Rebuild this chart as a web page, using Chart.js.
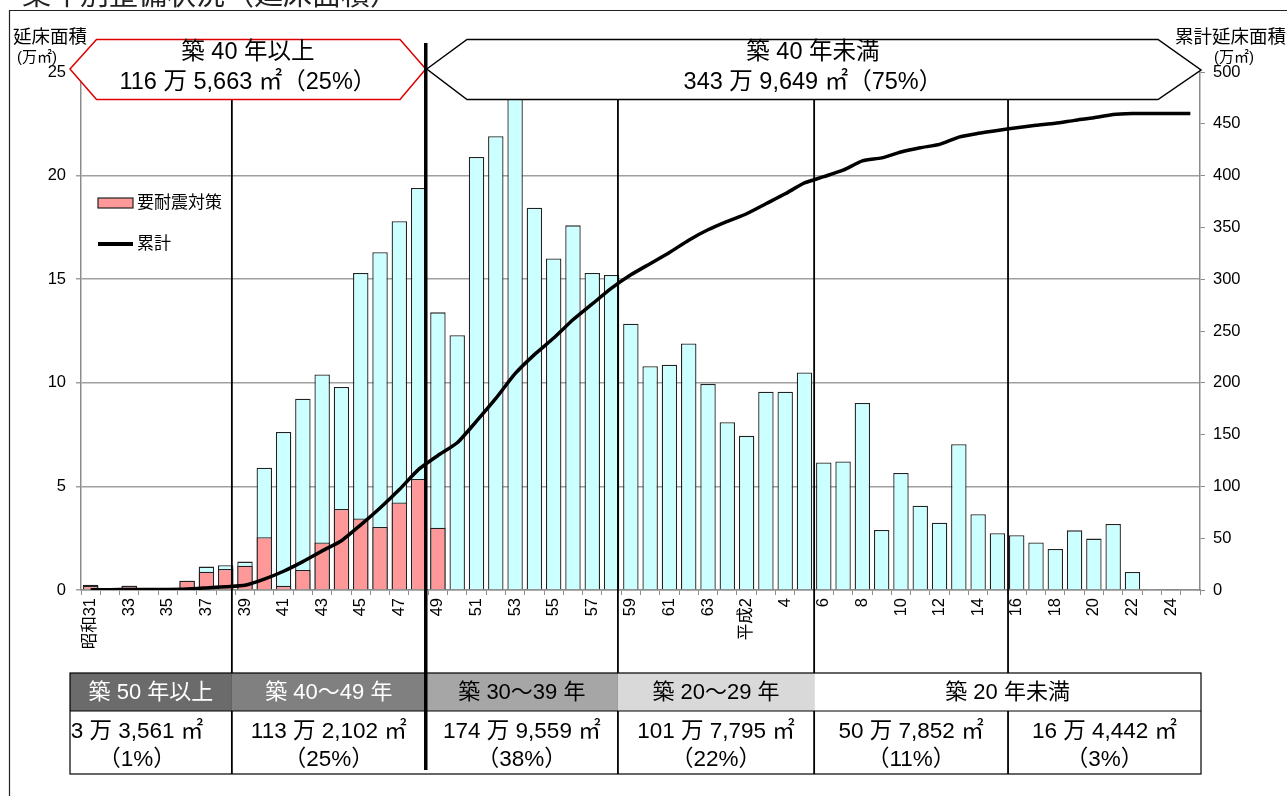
<!DOCTYPE html>
<html lang="ja">
<head>
<meta charset="utf-8">
<title>築年別整備状況（延床面積）</title>
<script src="https://cdn.jsdelivr.net/npm/chart.js@4.4.1/dist/chart.umd.min.js"></script>
<style>
  html, body { margin: 0; padding: 0; background: #fff; }
  #wrap { width: 1287px; height: 796px; }
</style>
</head>
<body>
<div id="wrap"><canvas id="chart" width="1287" height="796"></canvas></div>
<script>
// ===== DATA =====
// 建築年度（昭和31 ～ 平成25）
const categories = [
  '昭和31', '32', '33', '34', '35', '36', '37', '38', '39', '40',
  '41', '42', '43', '44', '45', '46', '47', '48', '49', '50',
  '51', '52', '53', '54', '55', '56', '57', '58', '59', '60',
  '61', '62', '63', '元', '平成2', '3', '4', '5', '6', '7',
  '8', '9', '10', '11', '12', '13', '14', '15', '16', '17',
  '18', '19', '20', '21', '22', '23', '24', '25'
];

// 延床面積（万㎡）: 年度ごとの合計
const totalArea = [
  0.25, 0, 0.2, 0, 0, 0.45, 1.13, 1.2, 1.37, 5.9,
  7.63, 9.23, 10.4, 9.8, 15.3, 16.3, 17.8, 19.4, 13.4, 12.3,
  20.9, 21.9, 23.9, 18.45, 16.0, 17.6, 15.3, 15.2, 12.85, 10.8,
  10.87, 11.9, 9.95, 8.1, 7.44, 9.57, 9.57, 10.5, 6.15, 6.2,
  9.03, 2.9, 5.65, 4.07, 3.25, 7.04, 3.66, 2.74, 2.64, 2.29,
  1.98, 2.88, 2.48, 3.19, 0.87, 0.05, 0.03, 0
];

// 要耐震対策（万㎡）
const seismicArea = [
  0.2, 0, 0.2, 0, 0, 0.45, 0.88, 1.01, 1.17, 2.55,
  0.2, 0.97, 2.29, 3.91, 3.45, 3.04, 4.22, 5.36, 3.01, 0,
  0, 0, 0, 0, 0, 0, 0, 0, 0, 0,
  0, 0, 0, 0, 0, 0, 0, 0, 0, 0,
  0, 0, 0, 0, 0, 0, 0, 0, 0, 0,
  0, 0, 0, 0, 0, 0, 0, 0
];

// 累計延床面積（万㎡）
const cumulativeArea = [
  0.3, 0.3, 0.5, 0.5, 0.5, 0.9, 2.0, 3.2, 4.6, 10.5,
  18.1, 27.4, 37.8, 47.6, 62.9, 79.2, 97.0, 116.4, 129.8, 142.1,
  163.0, 184.9, 208.8, 227.2, 243.2, 260.8, 276.1, 291.3, 304.2, 315.0,
  325.8, 337.7, 347.7, 355.8, 363.2, 372.8, 382.4, 392.9, 399.0, 405.2,
  414.2, 417.1, 422.8, 426.9, 430.1, 437.2, 440.8, 443.6, 446.2, 448.5,
  450.5, 453.3, 455.8, 459.0, 459.9, 459.9, 460.0, 460.0
];

// 上部の矢印（築40年以上 / 未満）
const bigGroupTitles = ['築 40 年以上', '築 40 年未満'];
const bigGroupValues = ['116 万 5,663 ㎡（25%）', '343 万 9,649 ㎡（75%）'];

// 下の表
const groupHeaders = ['築 50 年以上', '築 40～49 年', '築 30～39 年', '築 20～29 年', '築 20 年未満'];
const groupAreas = ['3 万 3,561 ㎡', '113 万 2,102 ㎡', '174 万 9,559 ㎡', '101 万 7,795 ㎡', '50 万 7,852 ㎡', '16 万 4,442 ㎡'];
const groupShares = ['（1%）', '（25%）', '（38%）', '（22%）', '（11%）', '（3%）'];

// ===== LAYOUT / STYLE =====
const FONT = "'Liberation Sans', Arial, 'Noto Sans CJK JP', sans-serif";
const axisGray = '#8c8c8c';
// category positions of the vertical dividers (between bars)
const dividerAt = [7.32, 17.37, 27.33, 37.5, 47.55];
const headerFill = ['#6b6b6b', '#808080', '#a6a6a6', '#d9d9d9', '#ffffff'];
const headerText = ['#fff', '#fff', '#000', '#000', '#000'];

function font(size) { return `${size}px ${FONT}`; }

function hexagon(ctx, tipL, cornerL, cornerR, tipR, top, midL, midR, bottom) {
  ctx.beginPath();
  ctx.moveTo(tipL, midL);
  ctx.lineTo(cornerL, top);
  ctx.lineTo(cornerR, top);
  ctx.lineTo(tipR, midR);
  ctx.lineTo(cornerR, bottom);
  ctx.lineTo(cornerL, bottom);
  ctx.closePath();
  ctx.fill();
  ctx.stroke();
}

function vline(ctx, x, y0, y1, w) {
  ctx.lineWidth = w;
  ctx.beginPath();
  ctx.moveTo(x, y0);
  ctx.lineTo(x, y1);
  ctx.stroke();
}

const decorations = {
  id: 'decorations',
  beforeDraw(chart) {
    const ctx = chart.ctx;
    ctx.save();
    ctx.fillStyle = '#fff';
    ctx.fillRect(0, 0, chart.width, chart.height);
    // cut-off page title
    ctx.fillStyle = '#222';
    ctx.font = font(29);
    ctx.textBaseline = 'alphabetic';
    ctx.fillText('築年別整備状況（延床面積）', 22, 5);
    // outer frame
    ctx.strokeStyle = '#222';
    ctx.lineWidth = 1.2;
    ctx.beginPath();
    ctx.moveTo(9.5, chart.height);
    ctx.lineTo(9.5, 10.5);
    ctx.lineTo(chart.width, 10.5);
    ctx.stroke();
    ctx.restore();
  },
  afterDraw(chart) {
    const ctx = chart.ctx;
    const area = chart.chartArea;
    const xs = chart.scales.x;
    const d = dividerAt.map(v => xs.getPixelForValue(v));
    const tableL = 70, tableR = area.right + 1;
    const rowTop = 673, rowMid = 711, rowBot = 774;
    ctx.save();

    // axis titles
    ctx.fillStyle = '#000';
    ctx.textBaseline = 'middle';
    ctx.textAlign = 'left';
    ctx.font = font(18.5);
    ctx.fillText('延床面積', 13, 38);
    ctx.fillText('累計延床面積', 1175, 38);
    ctx.font = font(15);
    ctx.fillText('(万㎡)', 17, 58);
    ctx.fillText('(万㎡)', 1214, 58);

    // vertical dividers
    ctx.strokeStyle = '#000';
    vline(ctx, d[0], 100, rowBot, 1.8);
    vline(ctx, d[2], 100, rowBot, 1.8);
    vline(ctx, d[3], 100, rowBot, 1.8);
    vline(ctx, d[4], 100, rowTop, 1.8);
    vline(ctx, d[4], rowMid, rowBot, 1.8);

    // arrow boxes
    ctx.lineWidth = 1.5;
    ctx.fillStyle = '#fff';
    ctx.strokeStyle = '#e00000';
    hexagon(ctx, 70, 96.5, 400, d[1], 39.5, 69, 69, 99.5);
    ctx.strokeStyle = '#000';
    hexagon(ctx, d[1] + 1, 467, 1158, area.right + 1, 39.5, 69, 70, 99.5);
    ctx.fillStyle = '#000';
    ctx.textAlign = 'center';
    ctx.font = font(23.5);
    const cL = (70 + d[1]) / 2, cR = (d[1] + area.right) / 2;
    ctx.fillText(bigGroupTitles[0], cL, 53);
    ctx.fillText(bigGroupValues[0], cL, 83);
    ctx.fillText(bigGroupTitles[1], cR, 53);
    ctx.fillText(bigGroupValues[1], cR, 83);

    // legend (inside plot)
    const pink = chart.data.datasets[1], cum = chart.data.datasets[0];
    ctx.fillStyle = pink.backgroundColor;
    ctx.fillRect(98, 198, 35, 10);
    ctx.strokeStyle = '#222';
    ctx.lineWidth = 1.2;
    ctx.strokeRect(98, 198, 35, 10);
    ctx.strokeStyle = '#000';
    ctx.lineWidth = 4;
    ctx.beginPath();
    ctx.moveTo(98, 244);
    ctx.lineTo(133, 244);
    ctx.stroke();
    ctx.fillStyle = '#000';
    ctx.textAlign = 'left';
    ctx.font = font(17);
    ctx.fillText(pink.label, 137, 203);
    ctx.fillText(cum.label, 137, 244);

    // table: header row
    const hCols = [tableL, d[0], d[1], d[2], d[3], tableR];
    ctx.font = font(22);
    ctx.textAlign = 'center';
    groupHeaders.forEach((t, i) => {
      ctx.fillStyle = headerFill[i];
      ctx.fillRect(hCols[i], rowTop, hCols[i + 1] - hCols[i], rowMid - rowTop);
      ctx.fillStyle = headerText[i];
      ctx.fillText(t, (hCols[i] + hCols[i + 1]) / 2, (rowTop + rowMid) / 2 + 1);
    });
    // value row
    const vCols = [tableL, d[0], d[1], d[2], d[3], d[4], tableR];
    ctx.fillStyle = '#000';
    ctx.font = font(22.5);
    groupAreas.forEach((t, i) => {
      const cx = i === 0 ? 137 : (vCols[i] + vCols[i + 1]) / 2;
      ctx.fillText(t, cx, 732);
      ctx.fillText(groupShares[i], cx, 760);
    });
    // table borders
    ctx.strokeStyle = '#000';
    ctx.lineWidth = 1.2;
    ctx.strokeRect(tableL, rowTop, tableR - tableL, rowBot - rowTop);
    ctx.beginPath();
    ctx.moveTo(tableL, rowMid);
    ctx.lineTo(tableR, rowMid);
    ctx.stroke();

    // thick 40-year divider
    vline(ctx, d[1], 43, 770, 3.5);
    ctx.restore();
  }
};

new Chart(document.getElementById('chart'), {
  type: 'bar',
  data: {
    labels: categories,
    datasets: [
      {
        type: 'line',
        label: '累計',
        data: cumulativeArea,
        yAxisID: 'y2',
        borderColor: '#000',
        borderWidth: 3.5,
        pointRadius: 0,
        tension: 0.2,
        order: 0
      },
      {
        label: '要耐震対策',
        data: seismicArea,
        backgroundColor: '#ff9999',
        borderColor: '#222',
        borderWidth: 1.3,
        grouped: false,
        barPercentage: 0.8,
        categoryPercentage: 1,
        order: 1
      },
      {
        label: '延床面積',
        data: totalArea,
        backgroundColor: '#ccffff',
        borderColor: '#222',
        borderWidth: 1.3,
        grouped: false,
        barPercentage: 0.8,
        categoryPercentage: 1,
        order: 2
      }
    ]
  },
  options: {
    responsive: false,
    animation: false,
    layout: { padding: { top: 72, left: 0, right: 0, bottom: 0 } },
    plugins: { legend: { display: false }, tooltip: { enabled: false } },
    scales: {
      x: {
        offset: true,
        grid: { offset: true, drawOnChartArea: false, color: axisGray, tickLength: 5 },
        border: { color: axisGray, width: 1.5 },
        ticks: {
          autoSkip: false,
          minRotation: 90,
          maxRotation: 90,
          padding: 3,
          color: '#000',
          font: { family: FONT, size: 16.5 },
          callback: (v, i) => (i % 2 === 0 ? categories[i] : '')
        },
        afterFit: s => { s.height = 206; }
      },
      y: {
        position: 'left',
        min: 0,
        max: 25,
        ticks: { stepSize: 5, padding: 10, color: '#000', font: { family: FONT, size: 16.5 } },
        grid: {
          color: c => (c.tick && c.tick.value === 25 ? 'rgba(0,0,0,0)' : '#a0a0a0'),
          lineWidth: 1.5,
          tickLength: 5
        },
        border: { color: axisGray, width: 1.5 },
        afterFit: s => { s.width = 81; }
      },
      y2: {
        position: 'right',
        min: 0,
        max: 500,
        ticks: { stepSize: 50, padding: 8, color: '#000', font: { family: FONT, size: 16.5 } },
        grid: { drawOnChartArea: false, color: axisGray, tickLength: 5 },
        border: { color: axisGray, width: 1.5 },
        afterFit: s => { s.width = 87; }
      }
    }
  },
  plugins: [decorations]
});
</script>
</body>
</html>
